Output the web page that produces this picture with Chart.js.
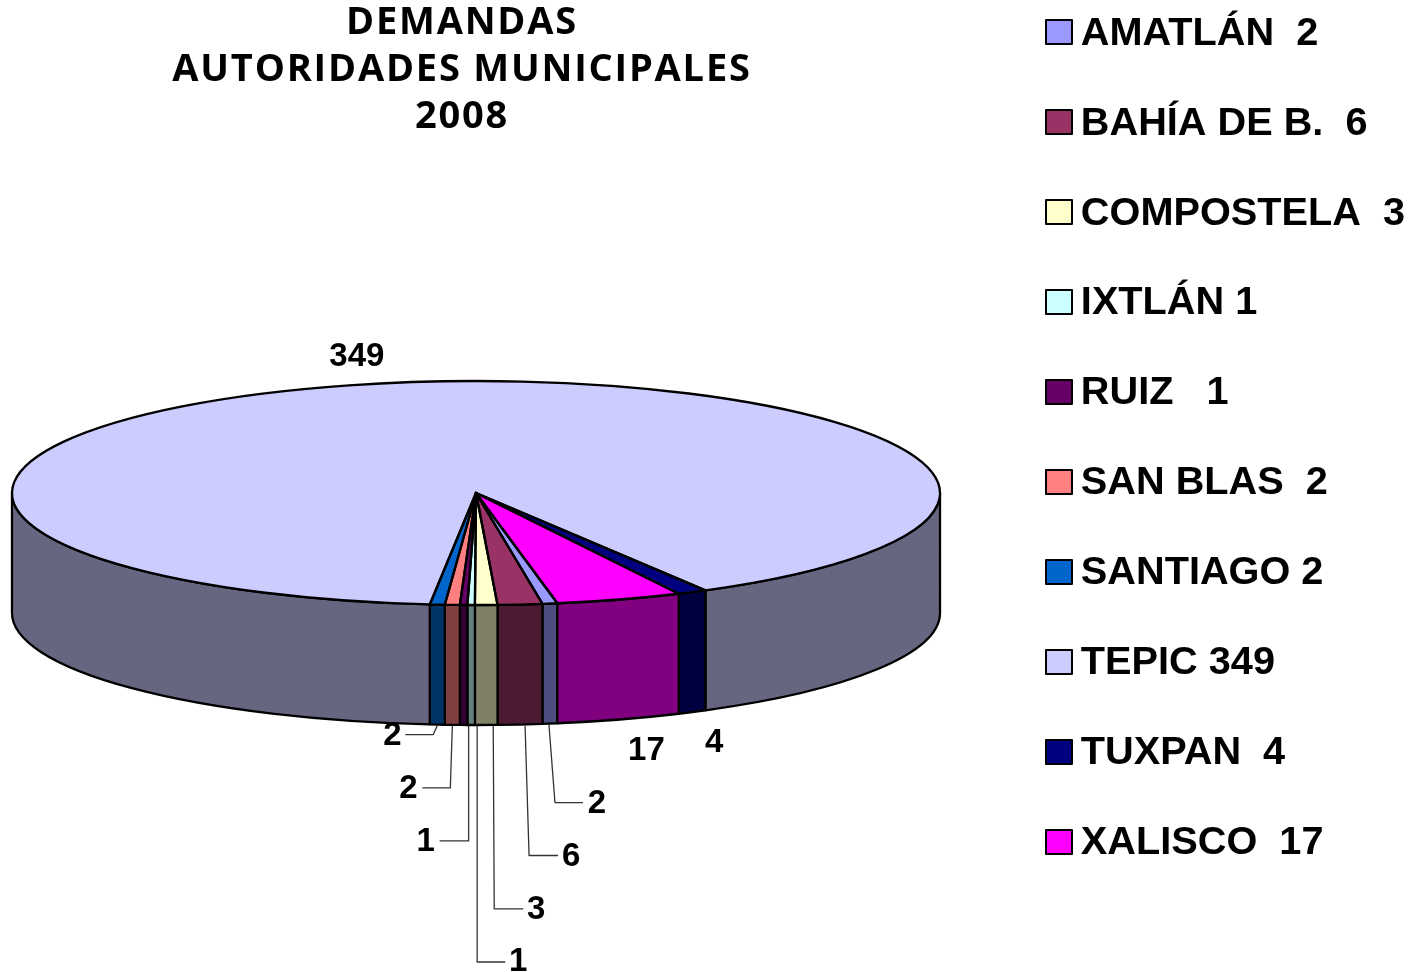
<!DOCTYPE html>
<html lang="es">
<head>
  <meta charset="UTF-8">
  <title>Demandas Autoridades Municipales 2008</title>
  <script src="https://cdn.jsdelivr.net/npm/chart.js"></script>
  <style>
    html, body { margin: 0; padding: 0; background: #fff; }
    canvas { display: block; }
  </style>
</head>
<body>
<canvas id="pieChart" width="1410" height="972"></canvas>

<script>
// data
const categories = ['AMATLÁN  2', 'BAHÍA DE B.  6', 'COMPOSTELA  3', 'IXTLÁN 1', 'RUIZ   1',
                    'SAN BLAS  2', 'SANTIAGO 2', 'TEPIC 349', 'TUXPAN  4', 'XALISCO  17'];
const values = [2, 6, 3, 1, 1, 2, 2, 349, 4, 17];
const titleLines = ['DEMANDAS', 'AUTORIDADES MUNICIPALES', '2008'];

// colours
const topColors  = ['#9999FF', '#993366', '#FFFFCC', '#CCFFFF', '#660066',
                    '#FF8080', '#0066CC', '#CCCCFF', '#000080', '#FF00FF'];
const sideColors = ['#4D4D80', '#4D1A33', '#808066', '#668080', '#330033',
                    '#804040', '#003366', '#666680', '#000040', '#800080'];

// the flat pie is projected on this ellipse, with a wall of height depth under it
const PIE = { cx: 476, cy: 493, rx: 464, ry: 112, depth: 120 };

// value label position, relative to the rim point in the middle of each slice
const labelOffsets = [[47, 81], [51, 133], [50, 186], [47, 238], [-38, 118],
                      [-44, 65], [-45, 12], [-23, -26], [22, 32], [27, 32]];
// leader line: start dx, elbow dx, elbow dy, end dx (same rim point)
const leaderOffsets = [[-1, 5, 79, 33], [5, 9, 131, 38], [7, 8, 184, 37], [6, 6, 237, 34], [5, 5, 116, -24],
                       [0, -2, 63, -30], [0, -4, 10, -32], null, null, null];

const LEGEND_X = 1045, LEGEND_TOP = 19, LEGEND_STEP = 90;
const TITLE_SPACING = '1.8px';

function rimPoint(el) {
  const mid = (el.startAngle + el.endAngle) / 2;
  const s = Math.sin(mid);
  return {
    x: PIE.cx + PIE.rx * Math.cos(mid),
    y: PIE.cy + PIE.ry * s + (s > 0 ? PIE.depth : 0)
  };
}

// parts of a slice that face the viewer (sin > 0)
function frontRanges(start, end) {
  const out = [];
  for (let k = -1; k <= 2; k++) {
    const a = Math.max(start, k * 2 * Math.PI);
    const b = Math.min(end, k * 2 * Math.PI + Math.PI);
    if (b > a) out.push([a, b]);
  }
  return out;
}

const pie3d = {
  id: 'pie3d',
  afterLayout(chart) {
    // the legend and the title sit where the layout would not put them
    const legend = chart.legend, pad = legend.options.labels.padding;
    legend.left = LEGEND_X - pad;
    legend.right = 1600;
    legend.top = LEGEND_TOP - 5 - pad;
    legend.bottom = 1600;
    const title = chart.titleBlock;
    title.left = 0;
    title.right = 924;
    title.top = 0;
    if (!title.spaced) {
      const drawTitle = title.draw;
      title.draw = function () {
        chart.ctx.letterSpacing = TITLE_SPACING;
        drawTitle.call(this);
        chart.ctx.letterSpacing = '0px';
      };
      title.spaced = true;
    }
  },
  beforeDatasetsDraw(chart) {
    const ctx = chart.ctx, arcs = chart.getDatasetMeta(0).data;
    ctx.lineWidth = 2.3;
    ctx.strokeStyle = '#000';
    ctx.lineJoin = 'round';
    arcs.forEach((el, i) => {
      frontRanges(el.startAngle, el.endAngle).forEach(([a, b]) => {
        ctx.beginPath();
        ctx.ellipse(PIE.cx, PIE.cy, PIE.rx, PIE.ry, 0, a, b);
        ctx.ellipse(PIE.cx, PIE.cy + PIE.depth, PIE.rx, PIE.ry, 0, b, a, true);
        ctx.closePath();
        ctx.fillStyle = sideColors[i];
        ctx.fill();
        ctx.stroke();
      });
    });
    const el = arcs[0], r = el.outerRadius;
    ctx.save();
    ctx.translate(PIE.cx, PIE.cy);
    ctx.scale(PIE.rx / r, PIE.ry / r);
    ctx.translate(-el.x, -el.y);
  },
  afterDatasetsDraw(chart) {
    const ctx = chart.ctx, arcs = chart.getDatasetMeta(0).data;
    ctx.restore();
    ctx.lineWidth = 2.3;
    ctx.strokeStyle = '#000';
    ctx.lineJoin = 'round';
    arcs.forEach(el => {
      ctx.beginPath();
      ctx.moveTo(PIE.cx, PIE.cy);
      ctx.ellipse(PIE.cx, PIE.cy, PIE.rx, PIE.ry, 0, el.startAngle, el.endAngle);
      ctx.closePath();
      ctx.stroke();
    });

    // value labels and leader lines
    arcs.forEach((el, i) => {
      const p = rimPoint(el), lead = leaderOffsets[i], off = labelOffsets[i];
      if (lead) {
        ctx.beginPath();
        ctx.moveTo(p.x + lead[0], p.y + 1);
        ctx.lineTo(p.x + lead[1], p.y + lead[2]);
        ctx.lineTo(p.x + lead[3], p.y + lead[2]);
        ctx.lineWidth = 1.3;
        ctx.strokeStyle = '#333';
        ctx.stroke();
      }
      ctx.font = 'bold 33px "Liberation Sans"';
      ctx.fillStyle = '#000';
      ctx.textAlign = 'center';
      ctx.textBaseline = 'middle';
      ctx.fillText(String(values[i]), p.x + off[0], p.y + off[1] - 1);
    });
  },
  afterDraw(chart) {
    // legend boxes are wider than the gap Chart.js leaves before the text
    const ctx = chart.ctx;
    topColors.forEach((color, i) => {
      ctx.fillStyle = color;
      ctx.fillRect(LEGEND_X + 1, LEGEND_TOP + 1 + i * LEGEND_STEP, 26, 24);
      ctx.lineWidth = 2;
      ctx.strokeStyle = '#000';
      ctx.strokeRect(LEGEND_X + 1, LEGEND_TOP + 1 + i * LEGEND_STEP, 26, 24);
    });
  }
};

new Chart(document.getElementById('pieChart'), {
  type: 'pie',
  data: {
    labels: categories,
    datasets: [{
      data: values,
      backgroundColor: topColors,
      borderWidth: 0,
      clip: false
    }]
  },
  plugins: [pie3d],
  options: {
    responsive: false,
    animation: false,
    events: [],
    rotation: 169.9,
    plugins: {
      tooltip: { enabled: false },
      title: {
        display: true,
        text: titleLines,
        color: '#000',
        padding: 0,
        font: { family: 'Open Sans', weight: 'bold', size: 38, lineHeight: 1.237 }
      },
      legend: {
        display: true,
        position: 'right',
        align: 'start',
        labels: {
          color: '#000',
          boxWidth: 16,
          boxHeight: 16,
          padding: 50.2,
          font: { family: 'Liberation Sans', weight: 'bold', size: 39.7 },
          generateLabels: chart => chart.data.labels.map((text, i) => ({
            text, index: i, fillStyle: 'transparent', strokeStyle: 'transparent', lineWidth: 0
          }))
        }
      }
    }
  }
});
</script>
</body>
</html>
